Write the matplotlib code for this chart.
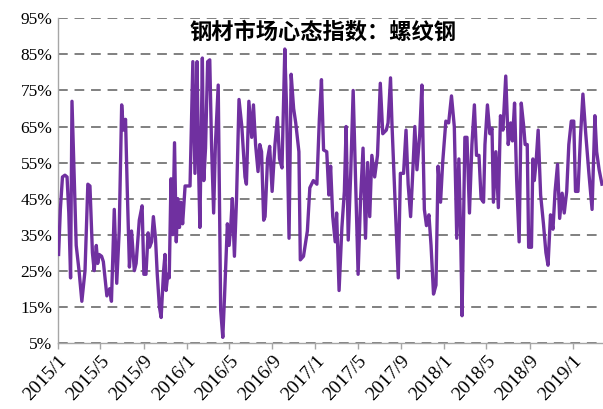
import matplotlib
matplotlib.use("Agg")
import matplotlib.pyplot as plt
import matplotlib.dates as mdates
import pandas as pd

plt.rcParams['font.family'] = ['Liberation Serif', 'DejaVu Sans']

title = "钢材市场心态指数：螺纹钢"

dates = [
    "2015-01-03", "2015-01-08", "2015-01-14", "2015-01-21", "2015-01-27", "2015-02-01",
    "2015-02-06", "2015-02-10", "2015-02-15", "2015-02-22", "2015-03-02", "2015-03-10",
    "2015-03-19", "2015-03-27", "2015-04-02", "2015-04-09", "2015-04-14", "2015-04-20",
    "2015-04-24", "2015-04-28", "2015-05-05", "2015-05-10", "2015-05-20", "2015-05-28",
    "2015-06-02", "2015-06-10", "2015-06-17", "2015-06-24", "2015-07-01", "2015-07-06",
    "2015-07-12", "2015-07-17", "2015-07-23", "2015-07-29", "2015-08-06", "2015-08-11",
    "2015-08-20", "2015-08-28", "2015-09-02", "2015-09-08", "2015-09-14", "2015-09-18",
    "2015-09-24", "2015-09-29", "2015-10-05", "2015-10-10", "2015-10-16", "2015-10-21",
    "2015-10-28", "2015-11-01", "2015-11-04", "2015-11-09", "2015-11-13", "2015-11-18",
    "2015-11-23", "2015-11-28", "2015-12-03", "2015-12-07", "2015-12-12", "2015-12-16",
    "2015-12-21", "2015-12-28", "2016-01-11", "2016-01-19", "2016-01-25", "2016-01-31",
    "2016-02-04", "2016-02-08", "2016-02-15", "2016-02-19", "2016-02-24", "2016-03-01",
    "2016-03-07", "2016-03-12", "2016-03-18", "2016-03-23", "2016-03-31", "2016-04-04",
    "2016-04-07", "2016-04-13", "2016-04-18", "2016-04-26", "2016-05-01", "2016-05-06",
    "2016-05-10", "2016-05-16", "2016-05-22", "2016-05-29", "2016-06-06", "2016-06-15",
    "2016-06-19", "2016-06-26", "2016-07-04", "2016-07-09", "2016-07-15", "2016-07-22",
    "2016-07-27", "2016-08-01", "2016-08-07", "2016-08-11", "2016-08-18", "2016-08-24",
    "2016-08-31", "2016-09-08", "2016-09-15", "2016-09-21", "2016-09-28", "2016-10-06",
    "2016-10-11", "2016-10-18", "2016-10-24", "2016-10-31", "2016-11-06", "2016-11-15",
    "2016-11-19", "2016-11-28", "2016-12-09", "2016-12-16", "2016-12-26", "2017-01-05",
    "2017-01-12", "2017-01-18", "2017-01-24", "2017-02-02", "2017-02-08", "2017-02-13",
    "2017-02-19", "2017-02-26", "2017-03-02", "2017-03-09", "2017-03-17", "2017-03-24",
    "2017-03-29", "2017-04-04", "2017-04-11", "2017-04-18", "2017-04-26", "2017-05-02",
    "2017-05-09", "2017-05-16", "2017-05-23", "2017-05-29", "2017-06-04", "2017-06-10",
    "2017-06-18", "2017-06-26", "2017-07-04", "2017-07-11", "2017-07-21", "2017-07-26",
    "2017-08-02", "2017-08-06", "2017-08-15", "2017-08-24", "2017-08-30", "2017-09-08",
    "2017-09-15", "2017-09-21", "2017-09-28", "2017-10-03", "2017-10-10", "2017-10-16",
    "2017-10-24", "2017-10-30", "2017-11-06", "2017-11-12", "2017-11-19", "2017-11-25",
    "2017-12-02", "2017-12-09", "2017-12-15", "2017-12-22", "2017-12-28", "2018-01-06",
    "2018-01-14", "2018-01-22", "2018-01-30", "2018-02-06", "2018-02-12", "2018-02-17",
    "2018-02-21", "2018-03-01", "2018-03-07", "2018-03-14", "2018-03-21", "2018-03-28",
    "2018-04-03", "2018-04-10", "2018-04-16", "2018-04-23", "2018-04-27", "2018-05-04",
    "2018-05-11", "2018-05-17", "2018-05-21", "2018-05-28", "2018-06-04", "2018-06-10",
    "2018-06-17", "2018-06-25", "2018-07-02", "2018-07-09", "2018-07-14", "2018-07-20",
    "2018-07-26", "2018-08-02", "2018-08-08", "2018-08-15", "2018-08-19", "2018-08-25",
    "2018-08-29", "2018-09-06", "2018-09-10", "2018-09-14", "2018-09-19", "2018-09-25",
    "2018-10-02", "2018-10-10", "2018-10-17", "2018-10-23", "2018-10-30", "2018-11-06",
    "2018-11-12", "2018-11-19", "2018-11-25", "2018-12-02", "2018-12-08", "2018-12-15",
    "2018-12-21", "2018-12-28", "2019-01-04", "2019-01-09", "2019-01-16", "2019-01-23",
    "2019-01-30", "2019-02-07", "2019-02-16", "2019-02-25", "2019-03-05", "2019-03-10",
    "2019-03-17", "2019-03-25",
]

values = [
    29.5, 42, 51, 51.5, 51, 41,
    23, 72, 55, 32, 25, 16.5,
    25, 49, 48.5, 30, 25, 32,
    27, 29.5, 29, 27.5, 18, 20,
    16.5, 42, 21.5, 36, 71, 64,
    67, 47, 26, 36, 25, 27,
    39, 43, 24, 24, 35.5, 31.5,
    33, 40, 34, 24, 15, 12,
    25, 29.5, 19.5, 24, 23, 50.5,
    35, 60.5, 33, 45, 37, 44,
    38, 48.5, 48.5, 83, 52, 83,
    55, 37, 84, 50, 59, 83,
    83.5, 60, 41, 60, 76.5, 41,
    14, 6.5, 18, 38, 32, 38,
    45, 29, 45, 72.5, 65, 51,
    49, 72, 62, 71, 60, 52.5,
    60, 58, 39, 40, 56, 59.5,
    47, 60, 67.5, 56, 53.5, 86.5,
    70, 34, 79.5, 70, 66, 58,
    28, 29, 36, 48, 50, 49,
    67, 78, 58.5, 58, 46, 54,
    40, 33, 41, 19.5, 37, 47,
    65, 33.5, 52, 75, 46, 24,
    45, 59, 34, 55, 40, 57,
    51, 57, 77, 63, 64, 66,
    78.5, 66, 44, 23, 52, 52,
    64, 49, 40, 50, 65, 53,
    63, 76.5, 42, 37.5, 40.5, 32,
    18.5, 21, 54, 44, 55, 66.5,
    66, 73.5, 65, 34, 56, 35,
    12.5, 62, 62, 41, 60, 71,
    57, 57, 45, 44, 60, 71,
    63, 64.5, 44, 58, 42.5, 68,
    64, 79, 60, 66, 61, 71.5,
    50, 33, 71.5, 65, 60, 60,
    31.5, 31.5, 56, 50, 55, 64,
    46, 38, 30, 26.5, 40.5, 36.5,
    47, 54.5, 39.5, 46.5, 41, 47,
    60, 66.5, 66.5, 47, 47, 62,
    74, 63, 52, 42, 68, 58,
    53, 49,
]

y_ticks = [5, 15, 25, 35, 45, 55, 65, 75, 85, 95]

x = pd.to_datetime(dates)

fig = plt.figure(figsize=(6.03, 4.09), dpi=100)
ax = fig.add_axes([0.096, 0.162, 0.904, 0.793])

ax.plot(x, values, color="#7030A0", linewidth=2.4, zorder=3)

ax.set_ylim(5, 95)
ax.set_yticks(y_ticks)
ax.set_yticklabels([f"{t}%" for t in y_ticks], fontsize=12.5)
ax.set_xlim(pd.Timestamp("2015-01-01"), pd.Timestamp("2019-03-28"))
ax.xaxis.set_major_locator(mdates.MonthLocator(bymonth=[1, 5, 9]))
ax.xaxis.set_major_formatter(
    plt.FuncFormatter(lambda v, p: f"{mdates.num2date(v).year}/{mdates.num2date(v).month}"))
for lbl in ax.get_xticklabels():
    lbl.set_rotation(47)
    lbl.set_ha("right")
    lbl.set_rotation_mode("anchor")
    lbl.set_fontsize(14)

ax.grid(axis="y", color="#808080", linestyle=(0, (5, 3.5)), linewidth=1.4, zorder=0)
ax.grid(axis="x", visible=False)
for s in ["top", "right"]:
    ax.spines[s].set_visible(False)
for s in ["left", "bottom"]:
    ax.spines[s].set_color("#A6A6A6")
    ax.spines[s].set_linewidth(1)
ax.tick_params(axis="both", colors="#A6A6A6", labelcolor="black", length=4, width=1)
ax.tick_params(axis="y", length=0, pad=4)
ax.tick_params(axis="x", pad=3)

fig.text(0.536, 0.922, title, ha="center", va="center", fontsize=16, fontweight="bold",
         family=["Noto Sans CJK SC", "DejaVu Sans"])

fig.savefig("out.png", dpi=100)
